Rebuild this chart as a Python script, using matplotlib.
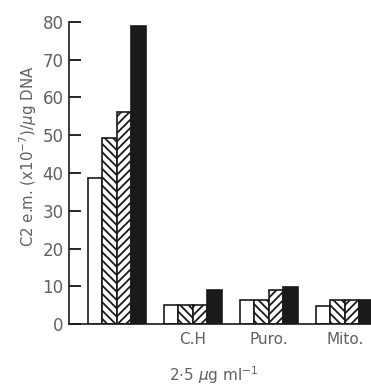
import numpy as np
import matplotlib.pyplot as plt

# group labels (first group has none)
groups = ['', 'C.H', 'Puro.', 'Mito.']

# C2 e.m. (x10^-7)/ug DNA, four bars per group
white_vals = [38.7, 5.1, 6.4, 4.9]
hatch1_vals = [49.3, 5.1, 6.4, 6.4]
hatch2_vals = [56.2, 5.1, 8.9, 6.4]
black_vals = [79.0, 8.9, 9.9, 6.4]

plt.rcParams['hatch.linewidth'] = 1.3
plt.rcParams['font.family'] = 'DejaVu Sans'

fig = plt.figure(figsize=(3.71, 3.85), dpi=100)
ax = fig.add_axes([69 / 371, 61 / 385, 302 / 371, 302 / 385])

x = np.arange(len(groups))
w = 0.19
start = 0.25
series = [
    (white_vals, 'white', ''),
    (hatch1_vals, 'white', '\\\\\\\\'),
    (hatch2_vals, 'white', '////'),
    (black_vals, '#1a1a1a', ''),
]
for k, (vals, fc, h) in enumerate(series):
    ax.bar(x + start + k * w, vals, width=w, align='edge', color=fc,
           edgecolor='#1a1a1a', linewidth=1.2, hatch=h)

ax.set_xlim(0, 302 / 76)
ax.set_ylim(0, 80)
ax.set_yticks(np.arange(0, 81, 10))
ax.tick_params(axis='y', direction='in', length=8.5, width=1.2, pad=4,
               labelsize=12, labelcolor='#606060')
ax.set_xticks(x + start + 2 * w)
ax.set_xticklabels(groups, fontsize=11, color='#606060')
ax.tick_params(axis='x', length=0, pad=6)

for s in ['top', 'right']:
    ax.spines[s].set_visible(False)
for s in ['left', 'bottom']:
    ax.spines[s].set_linewidth(1.2)
    ax.spines[s].set_color('#1a1a1a')

ax.set_ylabel('C2 e.m. (x10$^{-7}$)/$\\mu$g DNA', fontsize=10.8, color='#606060')
ax.yaxis.set_label_coords(-0.10, 0.556)

fig.text(214 / 371, 1 - 375 / 385, '2$\\cdot$5 $\\mu$g ml$^{-1}$', ha='center',
         va='center', fontsize=11, color='#606060')

fig.savefig('out.png', dpi=100)
